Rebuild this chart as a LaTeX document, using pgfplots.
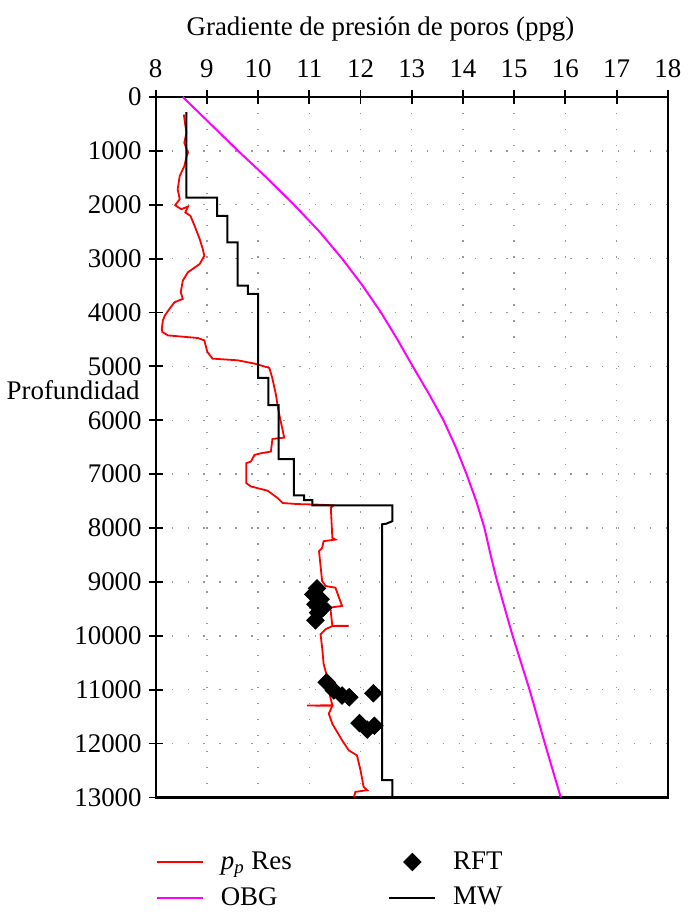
\documentclass[border=0pt]{standalone}
\usepackage{fontspec}
\setmainfont{Liberation Serif}
\usepackage{pgfplots}
\usepackage{pgfplotstable}
\pgfplotsset{compat=1.18}

\definecolor{ppred}{RGB}{255,0,0}
\definecolor{obgmag}{RGB}{255,0,255}
\newcommand{\chartfont}{\fontsize{13.5}{16}\selectfont}

% legend sample for the RFT points: one mark in the middle of the sample
\pgfplotsset{
  mark legend/.style={
    legend image code/.code={\draw[mark repeat=2, mark phase=2, ##1] plot coordinates {(0pt,0pt) (11.5pt,0pt) (23pt,0pt)};}
  }
}

% pore pressure gradient from resistivity (ppg vs depth)
\pgfplotstableread{
v d
8.55 327
8.60 665
8.56 850
8.63 1035
8.60 1120
8.56 1283
8.47 1467
8.43 1713
8.47 1898
8.38 2009
8.50 2083
8.63 2033
8.58 2144
8.68 2207
8.76 2392
8.86 2637
8.92 2822
8.95 2946
8.86 3100
8.63 3253
8.53 3408
8.49 3623
8.53 3747
8.37 3808
8.27 3932
8.18 4055
8.14 4150
8.12 4300
8.13 4362
8.24 4425
8.82 4473
8.95 4517
9.01 4732
9.11 4856
9.60 4887
9.93 4948
10.22 5028
10.28 5226
10.35 5534
10.39 5780
10.43 5965
10.51 6322
10.28 6347
10.25 6580
10.06 6612
9.93 6643
9.86 6765
9.77 6797
9.77 7166
9.86 7228
10.19 7308
10.38 7443
10.48 7536
10.77 7555
11.22 7567
11.48 7580
11.42 7620
11.45 8183
11.51 8214
11.28 8244
11.25 8368
11.19 8430
11.25 8983
11.32 9076
11.51 9107
11.58 9291
11.64 9445
11.41 9477
11.45 9815
11.77 9815
11.45 9820
11.32 9877
11.22 9970
11.25 10216
11.28 10524
11.35 10771
11.41 11140
11.45 11290
10.96 11293
11.45 11300
11.38 11445
11.45 11633
11.64 11940
11.77 12126
11.93 12218
12.00 12495
12.06 12803
12.13 12865
11.90 12896
11.87 12988
}\pressure

% RFT measurements
\pgfplotstableread{
v d
11.15 9120
11.08 9231
11.22 9323
11.12 9416
11.27 9477
11.17 9569
11.12 9712
11.34 10863
11.48 11016
11.64 11109
11.78 11140
12.25 11066
11.98 11620
12.13 11740
12.27 11670
}\rft

% overburden gradient
\pgfplotstableread{
v d
8.53 0
9.07 500
9.61 1000
10.17 1500
10.70 2000
11.20 2500
11.64 3000
12.04 3500
12.40 4000
12.72 4500
13.02 5000
13.33 5500
13.62 6000
13.86 6500
14.07 7000
14.26 7500
14.42 8000
14.54 8500
14.67 9000
14.97 10000
15.30 11000
15.60 12000
15.91 13000
}\obg

% mud weight
\pgfplotstableread{
v d
8.60 280
8.60 1867
9.20 1867
9.20 2207
9.40 2207
9.40 2700
9.60 2700
9.60 3500
9.80 3500
9.80 3655
10.00 3655
10.00 5213
10.20 5213
10.20 5719
10.40 5719
10.40 6723
10.70 6723
10.70 7394
10.90 7394
10.90 7480
11.06 7480
11.06 7580
12.62 7580
12.62 7874
12.50 7920
12.42 7930
12.42 12680
12.62 12680
12.62 13000
}\mw

\begin{document}
\begin{tikzpicture}
\begin{axis}[
  scale only axis, width=257pt, height=351.5pt,
  xmin=8, xmax=18, ymin=0, ymax=13000,
  y dir=reverse,
  xtick={8,...,18}, ytick={0,1000,...,13000},
  xtick pos=upper, xticklabel pos=upper, ytick pos=left,
  tick align=center, major tick length=7pt,
  tick style={black, line width=0.9pt},
  axis line style={black, line width=1.1pt},
  grid=major,
  major grid style={gray!80, line width=0.7pt, dash pattern=on 0.7pt off 7.3pt},
  scaled y ticks=false,
  yticklabel style={/pgf/number format/1000 sep={}},
  xticklabel style={yshift=2.5pt},
  ticklabel style={font=\chartfont},
  /pgf/number format/assume math mode=true,
  xlabel={Gradiente de presión de poros (ppg)},
  xlabel style={font=\chartfont, at={(axis description cs:0.439,1)}, anchor=base, yshift=31pt},
  ylabel={Profundidad},
  ylabel style={font=\chartfont, rotate=-90, at={(axis description cs:-0.0175,0.582)}, anchor=east},
  legend columns=2, legend cell align=left,
  legend style={at={(axis description cs:0,0)}, anchor=north west, yshift=-25pt,
    draw=none, fill=none, font=\chartfont, inner sep=0pt, row sep=3.5pt,
    /tikz/every even column/.append style={column sep=46.5pt},
    /tikz/every odd column/.append style={column sep=6.5pt}},
  legend image code/.code={\draw[#1] (0pt,0pt) -- (23pt,0pt);},
]
\addplot[ppred, line width=0.9pt] table[x=v, y=d] {\pressure};
\addlegendentry{\textit{p}\textsubscript{\textit{p}} Res}
\addplot[only marks, mark=square*, mark size=3.1pt,
  mark options={rotate=45, fill=black, draw=black}, mark legend]
  table[x=v, y=d] {\rft};
\addlegendentry{RFT}
\addplot[obgmag, line width=1pt] table[x=v, y=d] {\obg};
\addlegendentry{OBG}
\addplot[black, line width=1pt] table[x=v, y=d] {\mw};
\addlegendentry{MW}
\end{axis}
\path (current axis.south west) ++(-78pt,-55.7pt) rectangle ([shift={(7.5pt,48.65pt)}]current axis.north east);
\end{tikzpicture}
\end{document}
